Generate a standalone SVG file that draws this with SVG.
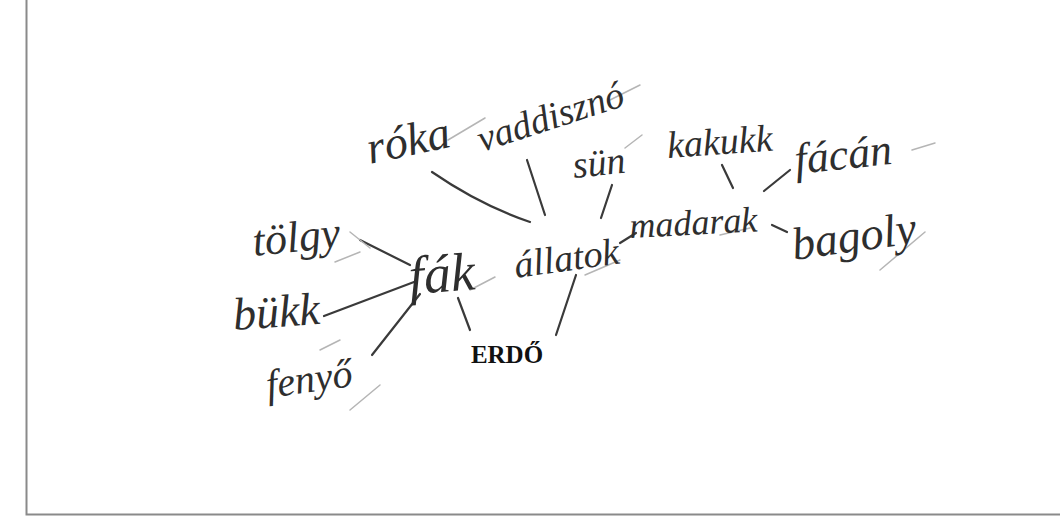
<svg xmlns="http://www.w3.org/2000/svg" width="1060" height="528" viewBox="0 0 1060 528">
<style>
.hw{font-family:"Liberation Serif","DejaVu Serif",serif;font-style:italic;fill:#2e2e2e;font-size:38px}
.ln{stroke:#3a3a3a;stroke-width:2.2;fill:none;stroke-linecap:round}
.fl{stroke:#b5b5b5;stroke-width:1.5;fill:none;stroke-linecap:round}
.frame{stroke:#8a8a8a;stroke-width:2;fill:none}
</style>
<rect width="1060" height="528" fill="#fff"/>
<path class="frame" d="M26.5 0 V514.5 H1060"/>
<g id="connectors">
<path class="ln" d="M432 172 Q480 205 530 222"/>
<path class="ln" d="M527 160 L545 215"/>
<path class="ln" d="M612 185 L601 218"/>
<path class="ln" d="M620 243 L636 233"/>
<path class="ln" d="M722 165 L733 188"/>
<path class="ln" d="M764 191 L790 170"/>
<path class="ln" d="M772 225 L787 232"/>
<path class="ln" d="M360 240 L410 265"/>
<path class="ln" d="M324 316 L414 282"/>
<path class="ln" d="M372 355 L420 294"/>
<path class="ln" d="M458 298 L470 330"/>
<path class="ln" d="M576 275 L556 335"/>
<path class="fl" d="M448 140 L485 118"/>
<path class="fl" d="M610 100 L640 85"/>
<path class="fl" d="M625 148 L642 135"/>
<path class="fl" d="M912 150 L935 143"/>
<path class="fl" d="M880 270 L925 232"/>
<path class="fl" d="M350 232 L370 248"/>
<path class="fl" d="M335 262 L360 252"/>
<path class="fl" d="M320 350 L340 340"/>
<path class="fl" d="M350 410 L380 385"/>
<path class="fl" d="M470 290 L495 277"/>
<path class="fl" d="M585 275 L620 260"/>
<path class="fl" d="M720 235 L750 228"/>
</g>
<g id="n-roka"><text class="hw" style="font-size:46px" transform="translate(370,164) rotate(-12)">róka</text></g>
<g id="n-vaddiszno"><text class="hw" transform="translate(482,152) rotate(-18)">vaddisznó</text></g>
<g id="n-sun"><text class="hw" transform="translate(574,178) rotate(-6)">sün</text></g>
<g id="n-kakukk"><text class="hw" transform="translate(668,158) rotate(-4)">kakukk</text></g>
<g id="n-facan"><text class="hw" style="font-size:44px" transform="translate(796,174) rotate(-6)">fácán</text></g>
<g id="n-madarak"><text class="hw" style="font-size:36px" transform="translate(630,238) rotate(-3)">madarak</text></g>
<g id="n-bagoly"><text class="hw" style="font-size:46px" transform="translate(794,260) rotate(-8)">bagoly</text></g>
<g id="n-allatok"><text class="hw" transform="translate(516,278) rotate(-8)">állatok</text></g>
<g id="n-fak"><text class="hw" style="font-size:54px" transform="translate(410,294) rotate(-4)">fák</text></g>
<g id="n-tolgy"><text class="hw" style="font-size:44px" transform="translate(254,256) rotate(-6)">tölgy</text></g>
<g id="n-bukk"><text class="hw" style="font-size:46px" transform="translate(234,330) rotate(-4)">bükk</text></g>
<g id="n-fenyo"><text class="hw" style="font-size:40px" transform="translate(268,398) rotate(-8)">fenyő</text></g>
<g id="n-erdo"><text x="507" y="363" text-anchor="middle" style="font-family:'Liberation Serif',serif;font-weight:bold;font-size:25px;fill:#111">ERDŐ</text></g>
</svg>
